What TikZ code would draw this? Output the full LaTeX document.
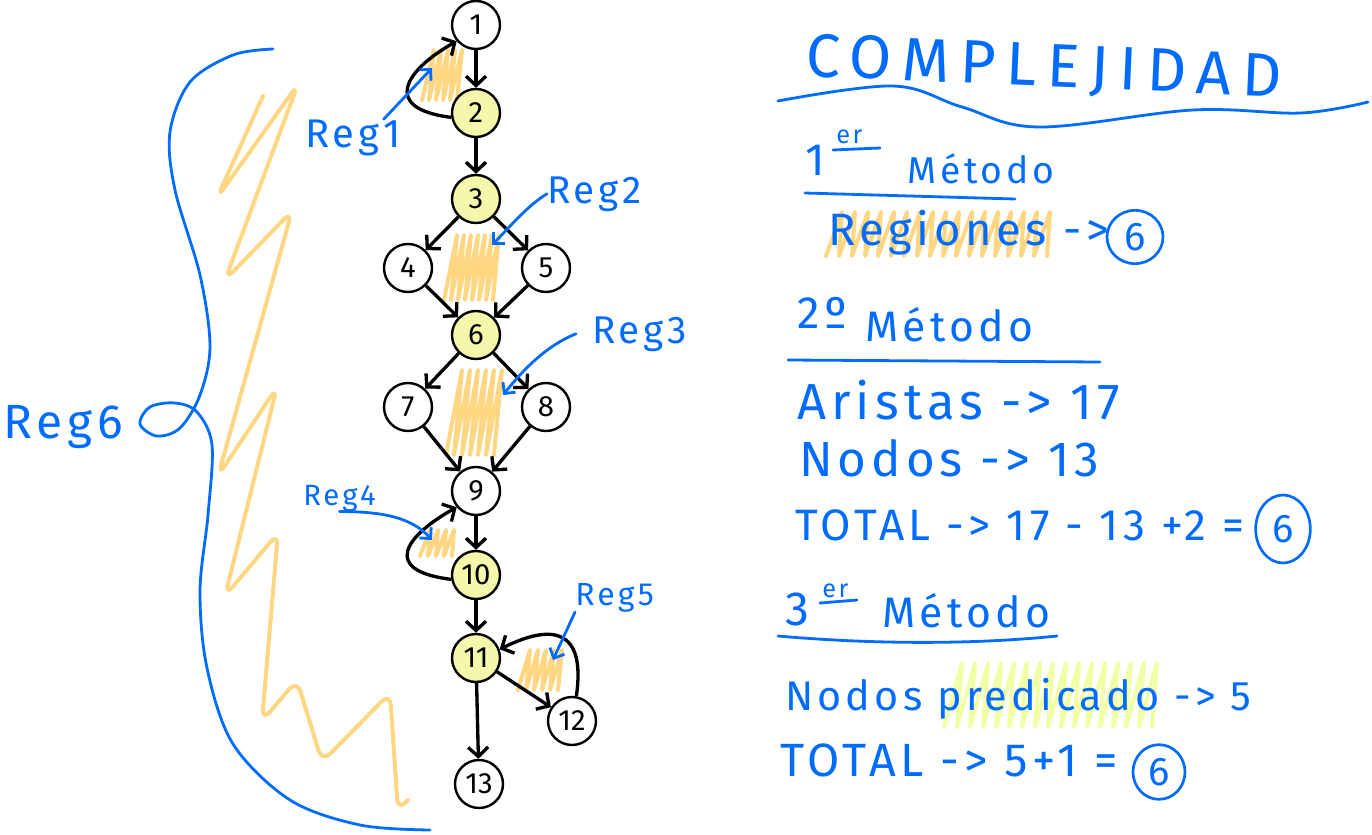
\documentclass[tikz,border=0pt]{standalone}
\usepackage{fontspec}
\setmainfont{Fira Sans}
\newfontfamily\handfont[LetterSpace=10]{Fira Sans}
\newfontfamily\titlefont[LetterSpace=17]{Fira Sans}
\usetikzlibrary{arrows.meta,shapes.geometric}

\definecolor{inkblue}{RGB}{0,108,255}
\definecolor{nodeyellow}{RGB}{245,248,170}
\definecolor{hatchorange}{RGB}{255,214,130}
\definecolor{hatchlime}{RGB}{242,255,165}

\tikzset{
  vertex/.style={circle, draw, line width=1.8pt, fill=white, minimum size=36pt, inner sep=0pt, font=\fontsize{22}{22}\selectfont},
  pred/.style={vertex, fill=nodeyellow},
  edge/.style={line width=2.5pt, -{Straight Barb[length=7pt,width=15pt]}},
  pointer/.style={draw=inkblue, line width=2.1pt, line cap=round, -{Straight Barb[length=6pt,width=12pt]}},
  blueword/.style={text=inkblue, inner sep=0pt, anchor=base west, font=\handfont\fontsize{#1}{#1}\selectfont},
  headline/.style={text=inkblue, inner sep=0pt, anchor=base west, font=\titlefont\fontsize{46}{46}\selectfont},
  ring/.style={ellipse, draw=inkblue, line width=2pt, inner sep=0pt, text=inkblue, font=\handfont\fontsize{30}{30}\selectfont},
  inkline/.style={draw=inkblue, line width=2.1pt, line cap=round},
  hatch/.style={draw=hatchorange, line width=3pt, line cap=round, line join=round},
}

\begin{document}
\begin{tikzpicture}[x=0.75pt,y=0.75pt,yscale=-1,xscale=1]
\useasboundingbox (0,0) rectangle (1372,835);

%Hatching of the regions
\draw[hatch] (422,100) \foreach \k in {1,...,5}{ -- ++(12,-50) -- ++(-5,50) };
\draw[hatch] (444,300) \foreach \k in {1,...,7}{ -- ++(13,-65) -- ++(-6,65) };
\draw[hatch] (446,455) \foreach \k in {1,...,6}{ -- ++(16,-85) -- ++(-8,85) };
\draw[hatch] (420,556) \foreach \k in {1,...,4}{ -- ++(10,-26) -- ++(-2,26) };
\draw[hatch] (518,690) \foreach \k in {1,...,5}{ -- ++(12,-40) -- ++(-4,40) };
%Reg6 zigzag
\draw[hatch, rounded corners=9pt] (263,96) -- (217,198) -- (298,84) -- (225,280) -- (292,211) -- (218,476) -- (277,387) -- (225,596) -- (278,533) -- (262,721) -- (297,680) -- (322,762) -- (390,693) -- (398,811) -- (408,800);
%Highlights on the right
\draw[hatch] (826,256) \foreach \k in {1,...,17}{ -- ++(16,-44) -- ++(-3,44) };
\draw[hatch, draw=hatchlime] (944,727) \foreach \k in {1,...,16}{ -- ++(18,-64) -- ++(-5,64) };

%Graph nodes
\node[vertex] (n1) at (476,25) {1};
\node[pred] (n2) at (476,113) {2};
\node[pred] (n3) at (476,199) {3};
\node[vertex] (n4) at (408,268) {4};
\node[vertex] (n5) at (546,268) {5};
\node[pred] (n6) at (476,335) {6};
\node[vertex] (n7) at (408,407) {7};
\node[vertex] (n8) at (546,407) {8};
\node[vertex] (n9) at (476,491) {9};
\node[pred] (n10) at (476,575) {10};
\node[pred] (n11) at (476,658) {11};
\node[vertex] (n12) at (572,721) {12};
\node[vertex] (n13) at (479,784) {13};

%Graph edges
\draw[edge] (n1) -- (n2);
\draw[edge] (n2.190) .. controls +(-72,-9) and +(-50,28) .. (n1.220);
\draw[edge] (n2) -- (n3);
\draw[edge] (n3) -- (n4);
\draw[edge] (n3) -- (n5);
\draw[edge] (n4) -- (n6);
\draw[edge] (n5) -- (n6);
\draw[edge] (n6) -- (n7);
\draw[edge] (n6) -- (n8);
\draw[edge] (n7) -- (n9);
\draw[edge] (n8) -- (n9);
\draw[edge] (n9) -- (n10);
\draw[edge] (n10.190) .. controls +(-72,-9) and +(-50,28) .. (n9.220);
\draw[edge] (n10) -- (n11);
\draw[edge] (n11) -- (n12);
\draw[edge] (n12.80) .. controls +(10,-70) and +(50,-25) .. (n11.20);
\draw[edge] (n11) -- (n13);

%Region labels
\node[blueword=30] (reg1) at (305,147) {Reg1};
\node[blueword=29] (reg2) at (547,203) {Reg2};
\node[blueword=29] (reg3) at (592,343) {Reg3};
\node[blueword=22] (reg4) at (303,505) {Reg4};
\node[blueword=24] (reg5) at (575,605) {Reg5};
\node[blueword=36] (reg6) at (3,438) {Reg6};
\coordinate (tip1) at (432,68);
\coordinate (tip2) at (492,245);
\coordinate (tip3) at (503,395);
\coordinate (tip4) at (432,540);
\coordinate (tip5) at (553,660);
\draw[pointer] ([xshift=-13pt]reg1.north east) -- (tip1);
\draw[pointer] (reg2.west) .. controls +(-20,12) and +(15,-15) .. (tip2);
\draw[pointer] ([xshift=-12pt]reg3.west) .. controls +(-30,12) and +(20,-25) .. (tip3);
\draw[pointer] (reg4.south) .. controls +(45,0) and +(-20,-22) .. (tip4);
\draw[pointer] (reg5.south west) -- (tip5);
%Reg6 brace
\draw[inkline] plot[smooth, tension=0.55] coordinates {(273,49) (233,55) (190,82) (170,132) (175,190) (200,275) (210,346) (200,395) (180,428) (157,436) (140,424) (150,407) (175,403) (197,412) (212,445) (208,515) (200,591) (207,668) (233,744) (290,800) (360,825) (430,830)};

%Complejidad
\node[headline, rotate=-2.5] (title) at (805,76) {COMPLEJIDAD};
\draw[inkline] plot[smooth, tension=0.6] coordinates {(778,101) (893,86) (962,107) (1039,127) (1193,110) (1301,113) (1368,102)};

%1er metodo
\node[blueword=34] (one) at (805,175) {1};
\node[blueword=19] (oneer) at (836,143) {er};
\draw[inkline] (833,150) -- (880,148);
\node[blueword=28] (metodoA) at (907,183) {Método};
\draw[inkline] (805,193) -- (1015,199);
\node[blueword=34] (regiones) at (828,245) {Regiones ->};
\node[ring, minimum width=42pt, minimum height=40pt] (ringA) at (1135,237) {6};

%2o metodo
\node[blueword=34] (two) at (797,328) {2º};
\node[blueword=32] (metodoB) at (865,341) {Método};
\draw[inkline] (788,360) -- (1100,362);
\node[blueword=38] (aristas) at (797,419) {Aristas -> 17};
\node[blueword=37] (nodosA) at (799,476) {Nodos -> 13};
\node[blueword=33] (totalA) at (795,540) {TOTAL -> 17 - 13 +2 =};
\node[ring, minimum width=41pt, minimum height=51pt] (ringB) at (1283,529) {6};

%3er metodo
\node[blueword=36] (three) at (785,625) {3};
\node[blueword=19] (threeer) at (822,597) {er};
\draw[inkline] (820,603) -- (857,600);
\node[blueword=32] (metodoC) at (882,627) {Método};
\draw[inkline] (778,636) .. controls (880,645) and (980,644) .. (1057,636);
\node[blueword=31] (nodosB) at (785,710) {Nodos predicado -> 5};
\node[blueword=35] (totalB) at (780,776) {TOTAL -> 5+1 =};
\node[ring, minimum width=39pt, minimum height=41pt] (ringC) at (1159,772) {6};

\end{tikzpicture}
\end{document}
